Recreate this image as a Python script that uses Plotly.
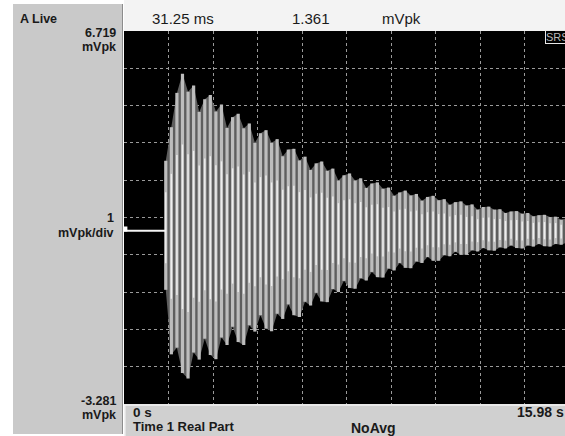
import plotly.graph_objects as go

# ---------------- data ----------------
y_top = 6.719          # mVpk at top of screen
y_bottom = -3.281      # mVpk at bottom of screen
y_div = 1.0            # mVpk/div
t_end = 15.98          # s, full record length
t_div = 1.598          # s/div (10 divisions)

marker_t = 0.03125     # 31.25 ms
marker_v = 1.361       # mVpk

pre_t = [0.0, 1.50]
pre_v = [1.361, 1.361]

burst_t = [1.50, 1.70, 1.90, 2.10, 2.30, 2.50, 2.70, 2.90, 3.10, 3.30,
           3.50, 3.70, 3.90, 4.10, 4.30, 4.50, 4.70, 4.90, 5.10, 5.30,
           5.50, 5.70, 5.90, 6.10, 6.30, 6.50, 6.70, 6.90, 7.10, 7.30,
           7.50, 7.70, 7.90, 8.10, 8.30, 8.50, 8.70, 8.90, 9.10, 9.30,
           9.50, 9.70, 9.90, 10.10, 10.30, 10.50, 10.70, 10.90, 11.10, 11.30,
           11.50, 11.70, 11.90, 12.10, 12.30, 12.50, 12.70, 12.90, 13.10, 13.30,
           13.50, 13.70, 13.90, 14.10, 14.30, 14.50, 14.70, 14.90, 15.10, 15.30,
           15.50, 15.70, 15.90]

peaks = [3.24, 4.14, 5.06, 5.57, 5.09, 5.26, 4.55, 4.89, 5.00, 4.56,
         4.75, 4.12, 4.41, 4.50, 4.11, 4.24, 3.72, 3.98, 4.06, 3.72,
         3.82, 3.36, 3.54, 3.56, 3.25, 3.35, 2.99, 3.17, 3.22, 2.97,
         3.03, 2.71, 2.85, 2.90, 2.71, 2.77, 2.51, 2.63, 2.66, 2.49,
         2.52, 2.30, 2.39, 2.44, 2.31, 2.35, 2.17, 2.27, 2.30, 2.18,
         2.21, 2.06, 2.13, 2.15, 2.04, 2.07, 1.93, 2.00, 2.01, 1.93,
         1.94, 1.84, 1.88, 1.89, 1.82, 1.84, 1.75, 1.78, 1.79, 1.73,
         1.74, 1.66, 1.70]

troughs = [-0.22, -1.95, -1.77, -2.45, -2.60, -1.90, -2.09, -1.53, -1.97, -2.08,
           -1.50, -1.70, -1.21, -1.62, -1.70, -1.17, -1.34, -0.90, -1.26, -1.33,
           -0.86, -1.00, -0.61, -0.90, -0.95, -0.54, -0.64, -0.30, -0.53, -0.55,
           -0.20, -0.28, 0.02, -0.17, -0.19, 0.09, 0.03, 0.26, 0.12, 0.11,
           0.35, 0.30, 0.50, 0.37, 0.36, 0.54, 0.50, 0.66, 0.56, 0.56,
           0.71, 0.68, 0.80, 0.72, 0.72, 0.84, 0.81, 0.90, 0.84, 0.83,
           0.92, 0.89, 0.97, 0.90, 0.89, 0.97, 0.94, 1.01, 0.95, 0.94,
           1.01, 0.99, 1.05]

# ---------------- geometry helpers (pixel -> paper) ----------------
L, T, B, W, H = 124, 31, 32, 565, 436
PW, PH = W - L, H - T - B


def PX(x):
    return (x - L) / PW


def PY(y):
    return (H - B - y) / PH


# visible part of the record (screen is cropped a few pixels on the right)
x_visible = (W - L) / 445.0 * t_end

fig = go.Figure()

# envelope (dark gray)
fig.add_trace(go.Scatter(
    x=burst_t + burst_t[::-1], y=peaks + troughs[::-1],
    fill="toself", fillcolor="#5e5e5e", mode="lines",
    line=dict(width=0), hoverinfo="skip"))

# oscillation strokes (light gray vertical strokes, brighter core)
bx, by = [], []
wx, wy = [], []
for t, hi, lo in zip(burst_t, peaks, troughs):
    bx += [t, t, None]
    by += [lo, hi, None]
    mid = marker_v
    wx += [t, t, None]
    wy += [mid - (mid - lo) * 0.55, mid + (hi - mid) * 0.55, None]
fig.add_trace(go.Scatter(x=bx, y=by, mode="lines",
                         line=dict(color="#bdbdbd", width=3.2),
                         hoverinfo="skip"))
fig.add_trace(go.Scatter(x=wx, y=wy, mode="lines",
                         line=dict(color="#eeeeee", width=1.4),
                         hoverinfo="skip"))

# pre-trigger flat trace
fig.add_trace(go.Scatter(x=pre_t, y=pre_v, mode="lines",
                         line=dict(color="#f4f4f4", width=2)))

# marker
fig.add_trace(go.Scatter(x=[marker_t], y=[marker_v + 0.05], mode="markers",
                         marker=dict(symbol="square", size=5, color="white")))


def bold(size):
    return dict(family="Liberation Sans, Arial", size=size, color="#1a1a1a",
                weight="bold")


font_top = dict(family="Liberation Sans, Arial", size=15, color="#1a1a1a")

shapes = [
    # left gray panel
    dict(type="rect", xref="paper", yref="paper", x0=PX(13), x1=PX(122),
         y0=PY(434), y1=PY(4), fillcolor="#c9c9c9", line=dict(width=0)),
    dict(type="line", xref="paper", yref="paper", x0=PX(122.5), x1=PX(122.5),
         y0=PY(434), y1=PY(4), line=dict(color="#8c8c8c", width=1)),
    # top readout bar
    dict(type="rect", xref="paper", yref="paper", x0=PX(124), x1=PX(566),
         y0=PY(31), y1=PY(0), fillcolor="#f3f3f3", line=dict(width=0)),
    # bottom bar
    dict(type="rect", xref="paper", yref="paper", x0=PX(124), x1=PX(566),
         y0=PY(436), y1=PY(404), fillcolor="#d0d0d0", line=dict(width=0)),
    dict(type="line", xref="paper", yref="paper", x0=PX(124), x1=PX(566),
         y0=PY(405), y1=PY(405), line=dict(color="#f2f2f2", width=1.5)),
    dict(type="line", xref="paper", yref="paper", x0=PX(124.8), x1=PX(124.8),
         y0=PY(436), y1=PY(405), line=dict(color="#f2f2f2", width=1.5)),
]

ann = []


def add_text(text, x, y, font, xanchor="left"):
    ann.append(dict(text=text, x=PX(x), y=PY(y), xref="paper", yref="paper",
                    xanchor=xanchor, yanchor="middle", showarrow=False,
                    font=font))


add_text("A Live", 18, 18.5, bold(12.5))
add_text("6.719", 118, 33, bold(12.5), "right")
add_text("mVpk", 118, 46.5, bold(12.5), "right")
add_text("1", 116, 217.5, bold(12.5), "right")
add_text("mVpk/div", 116, 232.5, bold(12.5), "right")
add_text("-3.281", 118, 401, bold(12.5), "right")
add_text("mVpk", 118, 415, bold(12.5), "right")

add_text("31.25 ms", 150, 19, font_top)
add_text("1.361", 290, 19, font_top)
add_text("mVpk", 380, 19, font_top)

add_text("0 s", 131, 412.5, bold(13.5))
add_text("Time 1 Real Part", 131, 426.5, bold(13))
add_text("NoAvg", 349, 427.5, bold(14))
add_text("15.98 s", 566, 412, bold(14), "right")

ann.append(dict(text="SRS", x=PX(545), y=PY(30), xref="paper", yref="paper",
                xanchor="left", yanchor="top", showarrow=False,
                font=dict(family="Liberation Sans, Arial", size=11,
                          color="#b8b8b8"),
                bgcolor="black", bordercolor="#e8e8e8", borderwidth=1,
                borderpad=0))

grid = dict(showgrid=True, gridcolor="#9a9a9a", griddash="dot", gridwidth=1,
            showticklabels=False, ticks="", zeroline=False, showline=False,
            fixedrange=True)

fig.update_layout(
    width=W, height=H,
    margin=dict(l=L, r=0, t=T, b=B, pad=0),
    paper_bgcolor="white", plot_bgcolor="black",
    showlegend=False,
    xaxis=dict(range=[0, x_visible], tick0=0, dtick=t_div, **grid),
    yaxis=dict(range=[y_bottom, y_top], tick0=y_bottom, dtick=y_div, **grid),
    shapes=shapes, annotations=ann,
)

fig.write_html("out.html", config={"displayModeBar": False},
               post_script="document.body.style.margin='0';"
                           "document.body.style.overflow='hidden';")
